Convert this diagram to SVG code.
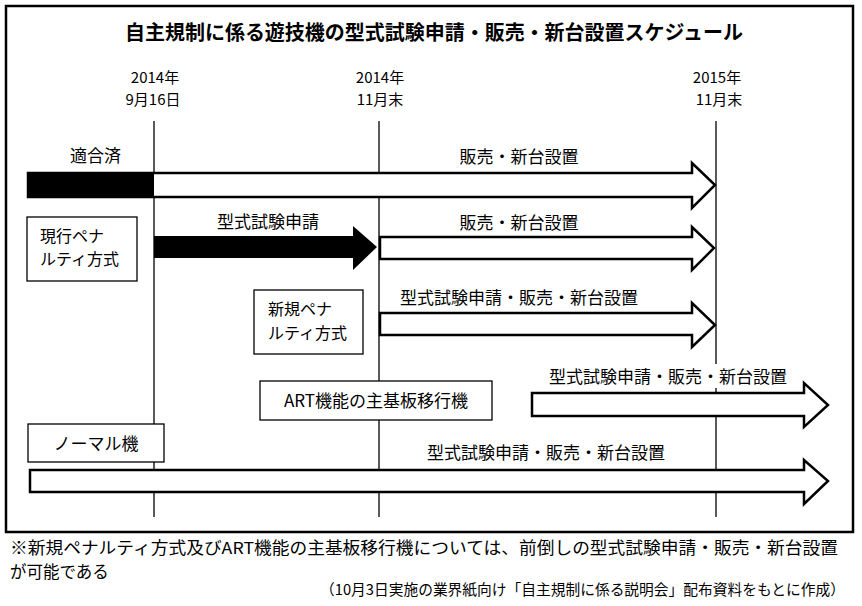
<svg xmlns="http://www.w3.org/2000/svg" width="862" height="606" viewBox="0 0 862 606">
<style>
text{font-family:"Noto Sans CJK JP","Noto Sans CJK SC",sans-serif;fill:#000}
.t{font-size:17px}
.b{font-size:16px}
.y{font-size:15px;text-anchor:middle}
.m{text-anchor:middle}
.box{fill:#fff;stroke:#000;stroke-width:1.3}
.wa{fill:#fff;stroke:#000;stroke-width:2.5;stroke-linejoin:miter}
.ba{fill:#000;stroke:none}
.vl{stroke:#000;stroke-width:1.3}
</style>
<rect width="862" height="606" fill="#fff"/>
<rect x="6" y="6" width="847" height="526" fill="none" stroke="#000" stroke-width="2.5"/>
<text x="434" y="40" font-size="20" font-weight="bold" text-anchor="middle" textLength="618" lengthAdjust="spacingAndGlyphs">自主規制に係る遊技機の型式試験申請・販売・新台設置スケジュール</text>
<g id="dates">
<text class="y"><tspan x="155" y="83">2014年</tspan><tspan x="153" y="105">9月16日</tspan></text>
<text class="y"><tspan x="380" y="83">2014年</tspan><tspan x="380" y="105">11月末</tspan></text>
<text class="y"><tspan x="717" y="83">2015年</tspan><tspan x="719" y="105">11月末</tspan></text>
</g>
<g id="timelines">
<line class="vl" x1="154" y1="121" x2="154" y2="517" stroke-width="2"/>
<line class="vl" x1="379" y1="121" x2="379" y2="517"/>
<line class="vl" x1="716" y1="121" x2="716" y2="517"/>
</g>
<g id="connectors">
<polygon class="wa" points="28,173 692,173 692,163 715,185 692,208 692,197 28,197"/>
<rect class="ba" x="28" y="172" width="126" height="26" rx="2"/>
<polygon class="ba" points="154,236 353,236 353,226 377,247 353,270 353,258 154,258"/>
<polygon class="wa" points="380,237 692,237 692,227 714,248 692,270 692,259 380,259"/>
<polygon class="wa" points="380,313 692,313 692,303 715,325 692,347 692,335 380,335"/>
<polygon class="wa" points="532,393 804,393 804,383 828,405 804,427 804,416 532,416"/>
<polygon class="wa" points="30,470 804,470 804,460 828,481 804,504 804,492 30,492"/>
</g>
<g id="labels">
<text class="t" x="70" y="162">適合済</text>
<text class="t m" x="519" y="163">販売・新台設置</text>
<text class="t m" x="268" y="228">型式試験申請</text>
<text class="t m" x="519" y="229">販売・新台設置</text>
<text class="t m" x="519" y="304">型式試験申請・販売・新台設置</text>
<rect x="546" y="364" width="244" height="24" fill="#fff"/>
<text class="t m" x="668" y="383">型式試験申請・販売・新台設置</text>
<text class="t m" x="546" y="459">型式試験申請・販売・新台設置</text>
</g>
<g id="node-genko">
<rect class="box" x="27" y="217" width="110" height="64"/>
<text class="b"><tspan x="40" y="241.5">現行ペナ</tspan><tspan x="40" y="265">ルティ方式</tspan></text>
</g>
<g id="node-shinki">
<rect class="box" x="254" y="290" width="109" height="64"/>
<text class="b"><tspan x="268" y="315">新規ペナ</tspan><tspan x="268" y="338.5">ルティ方式</tspan></text>
</g>
<g id="node-art">
<rect class="box" x="260" y="381" width="232" height="39"/>
<text class="t m" x="376" y="407">ART機能の主基板移行機</text>
</g>
<g id="node-normal">
<rect class="box" x="28" y="424" width="136" height="38"/>
<text class="t m" x="96" y="450">ノーマル機</text>
</g>
<g id="notes">
<text font-size="16.5"><tspan x="10" y="554" textLength="828" lengthAdjust="spacingAndGlyphs">※新規ペナルティ方式及びART機能の主基板移行機については、前倒しの型式試験申請・販売・新台設置</tspan><tspan x="10" y="578">が可能である</tspan></text>
<text x="320" y="595" font-size="15" textLength="525" lengthAdjust="spacingAndGlyphs">（10月3日実施の業界紙向け「自主規制に係る説明会」配布資料をもとに作成）</text>
</g>
</svg>
